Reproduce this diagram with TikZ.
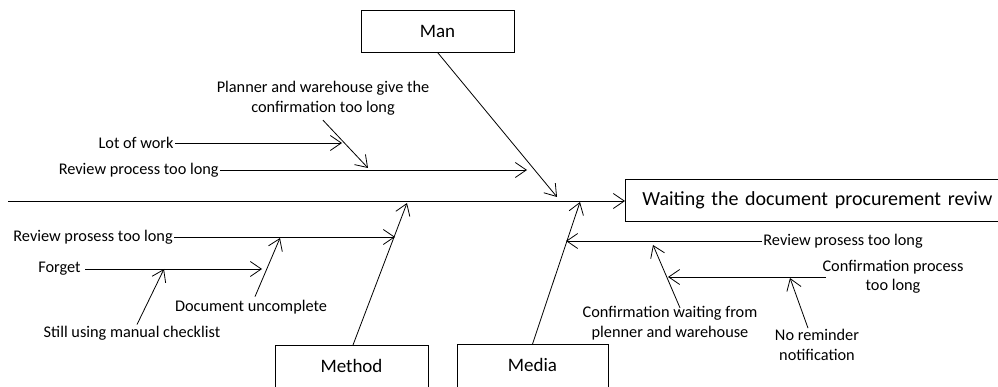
\documentclass[tikz,border=0pt]{standalone}
\usepackage{fontspec}
\setmainfont{Carlito}
\usetikzlibrary{arrows.meta}
\begin{document}
\begin{tikzpicture}[x=1pt,y=-1pt,
  line width=0.8pt,
  tip/.style={-{Straight Barb[length=11pt,width=15pt]}},
  lbl/.style={font=\fontsize{16.3}{19.5}\selectfont, inner sep=1pt, align=center},
  catbox/.style={draw, font=\fontsize{19}{22}\selectfont, minimum width=153pt},
]
\useasboundingbox (0,0) rectangle (998,387);
\clip (0,0) rectangle (998,387);

% category boxes and the effect box
\node[catbox, minimum height=42pt] (man) at (437.5,31) {Man};
\node[catbox, anchor=north, inner ysep=0pt, text height=27pt, text depth=28pt] (method) at (351.5,345) {Method};
\node[catbox, anchor=north, inner ysep=0pt, text height=27pt, text depth=28pt, minimum width=151pt] (media) at (532.5,344) {Media};
\node[catbox, font=\fontsize{20}{24}\selectfont, anchor=west, minimum height=42pt, text width=371pt, inner xsep=17pt, align=left] (effect) at (625,200) {Waiting the document procurement reviw};

% spine
\coordinate (tail) at (8,201);
\draw[tip] (tail) -- (effect.west |- tail);

% main branches
\coordinate (manTip) at (557,197);
\coordinate (methTip) at (407,203);
\coordinate (medTip) at (580,202);
\draw[tip] (man.south) -- (manTip);
\draw[tip] ([xshift=1.5pt]method.north) -- (methTip);
\draw[tip] (media.north) -- (medTip);

% causes under Man
\node[lbl, anchor=east] (m1) at (220,170) {Review process too long};
\node[lbl, anchor=east] (m2) at (175,143) {Lot of work};
\node[lbl] (m3) at (323,98) {Planner and warehouse give the\\confirmation too long};
\coordinate (m1tip) at (527,170);
\coordinate (m2tip) at (342,143);
\coordinate (m3tip) at (368,168);
\draw[tip] (m1) -- (m1tip);
\draw[tip] (m2) -- (m2tip);
\draw[tip] ([yshift=-4pt]m3.south) -- (m3tip);

% causes under Method
\node[lbl, anchor=west] (t1) at (12,237) {Review prosess too long};
\node[lbl] (t2) at (59.5,269) {Forget};
\node[lbl] (t3) at (251,307) {Document uncomplete};
\node[lbl] (t4) at (132,333) {Still using manual checklist};
\coordinate (t1tip) at (395,237);
\coordinate (t2tip) at (262,269);
\coordinate (t3tip) at (280,238);
\coordinate (t4tip) at (164,269);
\draw[tip] (t1) -- (t1tip);
\draw[tip] ([xshift=3pt]t2.east) -- (t2tip);
\draw[tip] ([xshift=4pt,yshift=2pt]t3.north) -- (t3tip);
\draw[tip] ([xshift=5pt]t4.north) -- (t4tip);

% causes under Media
\node[lbl, anchor=west] (d1) at (762,241) {Review prosess too long};
\node[lbl] (d2) at (893,277) {Confirmation process\\too long};
\node[lbl] (d3) at (670,323) {Confirmation waiting from\\plenner and warehouse};
\node[lbl] (d4) at (817,345) {No reminder\\notification};
\coordinate (d1tip) at (566,241);
\coordinate (d2tip) at (668,277);
\coordinate (d3tip) at (653,245);
\coordinate (d4tip) at (790,278);
\draw[tip] (d1) -- (d1tip);
\draw[tip] ([xshift=5pt]d2.west) -- (d2tip);
\draw[tip] ([xshift=10pt,yshift=-3pt]d3.north) -- (d3tip);
\draw[tip] ([xshift=-9pt]d4.north) -- (d4tip);
\end{tikzpicture}
\end{document}
